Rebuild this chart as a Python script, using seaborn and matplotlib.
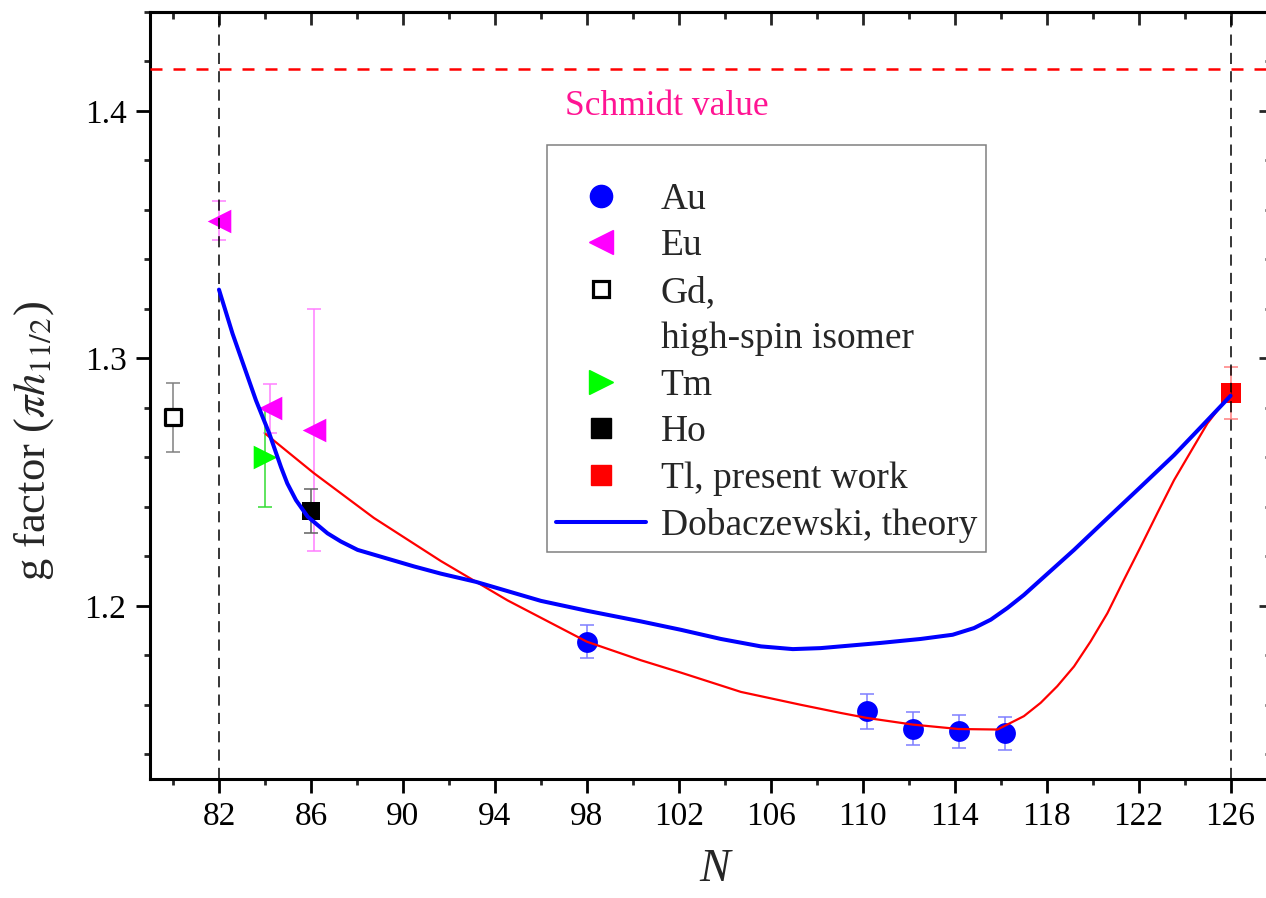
import matplotlib
matplotlib.use('Agg')
import matplotlib.pyplot as plt
from matplotlib.lines import Line2D
from matplotlib.ticker import MultipleLocator, NullFormatter
import seaborn as sns

# ---------------- data ----------------
au_N = [98.0, 110.2, 112.2, 114.2, 116.2]
au_g = [1.1855, 1.1573, 1.1504, 1.1492, 1.1484]
au_err = [0.0067, 0.0069, 0.0067, 0.0068, 0.0067]

eu_N = [82.0, 84.2, 86.15]
eu_g = [1.3556, 1.2798, 1.2710]
eu_err = [0.0079, 0.0099, 0.049]

gd_N = [80.0]
gd_g = [1.2762]
gd_err = [0.014]

tm_N = [84.0]
tm_g = [1.260]
tm_err = [0.020]

ho_N = [86.0]
ho_g = [1.2383]
ho_err = [0.009]

tl_N = [126.0]
tl_g = [1.2859]
tl_err = [0.0105]

theory_N = [82.0, 82.59, 83.1, 83.61, 84.19, 84.70, 84.97, 85.35, 85.86, 86.72,
            87.3, 88.03, 90.49, 91.65, 93.17, 96.0, 98.0, 100.35, 102.09, 103.83,
            105.57, 106.96, 108.17, 110.78, 112.52, 113.91, 114.84, 115.57,
            116.29, 117.01, 117.74, 119.19, 120.64, 122.09, 123.54, 124.99, 126.0]
theory_g = [1.3278, 1.31, 1.2965, 1.283, 1.2696, 1.256, 1.2495, 1.2427, 1.236,
            1.2293, 1.2260, 1.2226, 1.2159, 1.2130, 1.2097, 1.202, 1.198, 1.1937,
            1.1903, 1.1866, 1.1836, 1.1825, 1.1829, 1.185, 1.1866, 1.1883, 1.191,
            1.1944, 1.1991, 1.2044, 1.2105, 1.2226, 1.2354, 1.2481, 1.2609, 1.275,
            1.2849]

fit_N = [84.04, 86.13, 88.74, 91.65, 94.55, 98.0, 100.35, 102.09, 104.7, 107.3,
         109.04, 110.17, 112.17, 114.17, 115.86, 117.01, 117.74, 118.46, 119.19,
         119.91, 120.64, 121.36, 122.09, 122.81, 123.54, 124.26, 124.99, 126.0]
fit_g = [1.2694, 1.2536, 1.2355, 1.2181, 1.2022, 1.1855, 1.1780, 1.1730, 1.1652,
         1.1600, 1.1567, 1.1547, 1.1520, 1.1502, 1.150, 1.1554, 1.1608, 1.1675,
         1.1755, 1.1856, 1.197, 1.2105, 1.2239, 1.2374, 1.2508, 1.2622, 1.2737,
         1.2859]

schmidt_g = 1.417
shell_N = [82, 126]
x_ticks = list(range(82, 127, 4))
y_ticks = [1.2, 1.3, 1.4]

legend_labels = ['Au', 'Eu', 'Gd,', 'high-spin isomer', 'Tm', 'Ho',
                 'Tl, present work', 'Dobaczewski, theory']

# ---------------- style ----------------
sns.set_style('ticks')
plt.rcParams['font.family'] = ['Liberation Serif', 'DejaVu Serif']
plt.rcParams['mathtext.fontset'] = 'stix'

fig = plt.figure(figsize=(12.66, 8.98), dpi=100)
W, H = 1266, 898
ax = fig.add_axes([150 / W, 1 - 779 / H, (1272 - 150) / W, (779 - 12) / H])

BLUE = '#0000FF'
MAG = '#FF00FF'
GREEN = '#00FF00'
RED = '#FF0000'

# error bars
eb = dict(fmt='none', elinewidth=1.1, capsize=5, capthick=1.1, zorder=2)
ax.errorbar(au_N, au_g, yerr=au_err, ecolor='#7F7FFF', **eb)
ax.errorbar(eu_N, eu_g, yerr=eu_err, ecolor='#FF7FFF', **eb)
ax.errorbar(gd_N, gd_g, yerr=gd_err, ecolor='#808080', **eb)
ax.errorbar(tm_N, tm_g, yerr=tm_err, ecolor='#33DD33', **eb)
ax.errorbar(ho_N, ho_g, yerr=ho_err, ecolor='#606060', **eb)
ax.errorbar(tl_N, tl_g, yerr=tl_err, ecolor='#FF7F7F', **eb)

# markers
sns.scatterplot(x=au_N, y=au_g, marker='o', s=15 ** 2, color=BLUE, linewidth=0,
                ax=ax, zorder=3, legend=False)
sns.scatterplot(x=eu_N, y=eu_g, marker='<', s=17 ** 2, color=MAG, linewidth=0,
                ax=ax, zorder=3, legend=False)
sns.scatterplot(x=gd_N, y=gd_g, marker='s', s=12 ** 2, facecolor='white',
                edgecolor='black', linewidth=2.3, ax=ax, zorder=3, legend=False)
sns.scatterplot(x=tm_N, y=tm_g, marker='>', s=17 ** 2, color=GREEN, linewidth=0,
                ax=ax, zorder=3, legend=False)
sns.scatterplot(x=ho_N, y=ho_g, marker='s', s=13.5 ** 2, color='black', linewidth=0,
                ax=ax, zorder=3, legend=False)
sns.scatterplot(x=tl_N, y=tl_g, marker='s', s=15 ** 2, color=RED, linewidth=0,
                ax=ax, zorder=3, legend=False)

# reference lines
for n in shell_N:
    ax.axvline(n, color='black', lw=1.1, dashes=(7.3, 4.7), zorder=3.5)
ax.axhline(schmidt_g, color=RED, lw=1.8, dashes=(4.8, 4.4), zorder=3.5)

# curves
sns.lineplot(x=fit_N, y=fit_g, sort=False, estimator=None, color=RED, lw=1.6,
             ax=ax, zorder=4, legend=False)
sns.lineplot(x=theory_N, y=theory_g, sort=False, estimator=None, color=BLUE, lw=2.9,
             ax=ax, zorder=4.5, legend=False)
for ln in ax.lines[-2:]:
    ln.set_solid_joinstyle('round')
    ln.set_solid_capstyle('round')

ax.text(97.04, 1.3984, 'Schmidt value', color='#FF1493', fontsize=25.5,
        ha='left', va='baseline')

# axes
ax.set_xlim(79, 127.8)
ax.set_ylim(1.13, 1.44)
ax.set_xticks(x_ticks)
ax.set_yticks(y_ticks)
ax.set_yticklabels([f'{v:.1f}' for v in y_ticks])
ax.xaxis.set_minor_locator(MultipleLocator(2))
ax.yaxis.set_minor_locator(MultipleLocator(0.02))
ax.tick_params(which='major', direction='out', length=10, width=2, labelsize=24,
               colors='black')
ax.tick_params(which='minor', direction='out', length=4.5, width=2)
ax.tick_params(axis='x', which='major', pad=6.5)
ax.tick_params(axis='y', which='major', pad=7)
for sp in ax.spines.values():
    sp.set_linewidth(2.2)
    sp.set_color('black')

secx = ax.secondary_xaxis('top')
secx.set_xticks(x_ticks)
secx.xaxis.set_minor_locator(MultipleLocator(2))
secx.xaxis.set_major_formatter(NullFormatter())
secx.tick_params(which='major', direction='in', length=9.5, width=2)
secx.tick_params(which='minor', direction='in', length=5, width=2)
secx.spines['top'].set_linewidth(2.2)

secy = ax.secondary_yaxis('right')
secy.set_yticks(y_ticks)
secy.yaxis.set_minor_locator(MultipleLocator(0.02))
secy.yaxis.set_major_formatter(NullFormatter())
secy.tick_params(which='major', direction='in', length=9.5, width=2)
secy.tick_params(which='minor', direction='in', length=5, width=2)
secy.spines['right'].set_linewidth(2.2)

ax.set_xlabel('N', fontsize=33, fontstyle='italic')
ax.xaxis.set_label_coords(0.5036, -0.090)
ax.set_ylabel(r'g factor ($\pi h_{11/2}$)', fontsize=32)
ax.yaxis.set_label_coords(-0.084, 0.4407)

# legend
handles = [
    Line2D([], [], ls='none', marker='o', ms=16, color=BLUE, mec=BLUE),
    Line2D([], [], ls='none', marker='<', ms=17, color=MAG, mec=MAG),
    Line2D([], [], ls='none', marker='s', ms=12, mfc='white', mec='black', mew=2.3),
    Line2D([], [], ls='none', marker=None),
    Line2D([], [], ls='none', marker='>', ms=17, color=GREEN, mec=GREEN),
    Line2D([], [], ls='none', marker='s', ms=14, color='black'),
    Line2D([], [], ls='none', marker='s', ms=15, color=RED),
    Line2D([], [], color=BLUE, lw=2.9),
]
leg = ax.legend(handles, legend_labels, loc='upper left',
                bbox_to_anchor=(0.3538, 0.8266), borderaxespad=0,
                fontsize=27, frameon=True, fancybox=False, shadow=False,
                edgecolor='#808080', framealpha=1, handlelength=2.38,
                handletextpad=0.4, borderpad=0.25, labelspacing=0.32,
                title=' ', title_fontsize=11.5)
leg.get_frame().set_linewidth(1.1)
leg.set_zorder(10)

fig.savefig('out.png', dpi=100)
